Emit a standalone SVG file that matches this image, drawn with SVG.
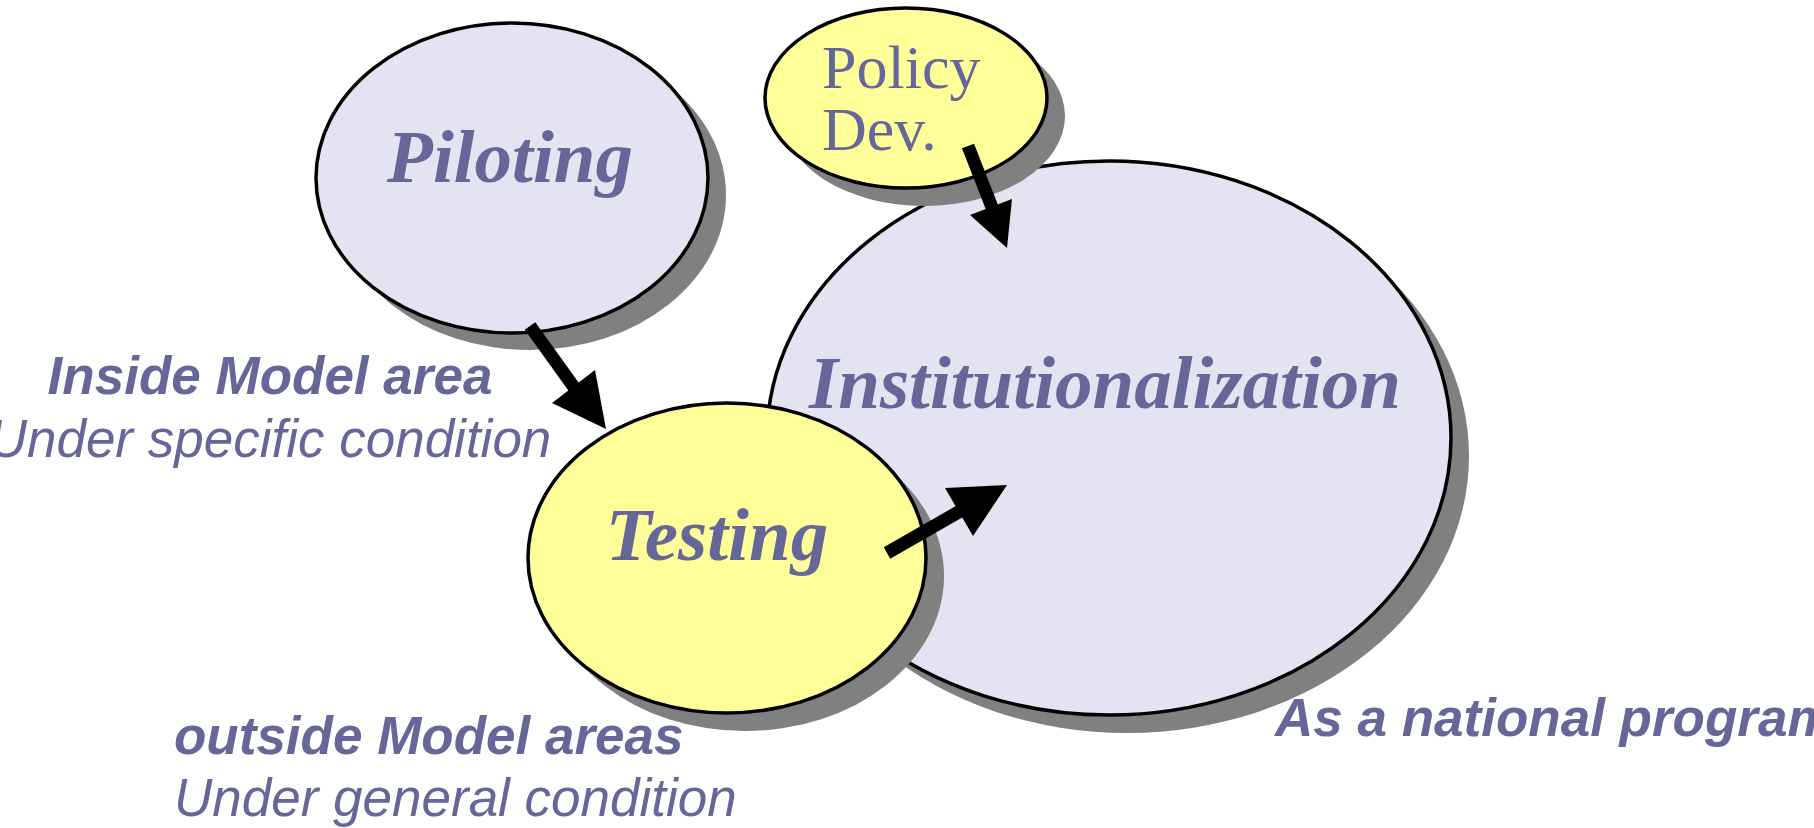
<svg xmlns="http://www.w3.org/2000/svg" width="1814" height="828" viewBox="0 0 1814 828">
  <style>
    .shadow { fill: #808080; }
    .lav { fill: #E3E3F1; stroke: #000; stroke-width: 3.5; }
    .yel { fill: #FFFF99; stroke: #000; stroke-width: 3.5; }
    .title { font-family: "Liberation Serif", "Times New Roman", serif; font-weight: bold; font-style: italic; font-size: 75px; fill: #666699; }
    .plain { font-family: "Liberation Serif", "Times New Roman", serif; font-size: 62px; fill: #666699; }
    .note-b { font-family: "Liberation Sans", Arial, sans-serif; font-weight: bold; font-style: italic; font-size: 53px; fill: #666699; }
    .note-i { font-family: "Liberation Sans", Arial, sans-serif; font-style: italic; font-size: 53px; fill: #666699; }
    .shaft { stroke: #000; stroke-width: 13; fill: none; }
    .head { fill: #000; }
  </style>
  <rect width="1814" height="828" fill="#fff"/>

  <g id="institutionalization">
    <ellipse class="shadow" cx="1127" cy="456" rx="342" ry="277"/>
    <ellipse class="lav" cx="1109" cy="438" rx="342" ry="277"/>
    <text class="title" x="1105" y="408" text-anchor="middle">Institutionalization</text>
  </g>

  <g id="testing">
    <ellipse class="shadow" cx="745" cy="576" rx="199" ry="155"/>
    <ellipse class="yel" cx="727" cy="558" rx="199" ry="155"/>
    <text class="title" x="717" y="560" text-anchor="middle">Testing</text>
  </g>

  <g id="policy">
    <ellipse class="shadow" cx="924" cy="116" rx="141" ry="90"/>
    <ellipse class="yel" cx="906" cy="98" rx="141" ry="90"/>
    <text class="plain" x="822" y="88">Policy</text>
    <text class="plain" x="822" y="150">Dev.</text>
  </g>

  <g id="piloting">
    <ellipse class="shadow" cx="530" cy="195" rx="196" ry="155"/>
    <ellipse class="lav" cx="512" cy="178" rx="196" ry="155"/>
    <text class="title" x="510" y="182" text-anchor="middle">Piloting</text>
  </g>

  <g id="labels">
    <text class="note-b" x="270" y="394" text-anchor="middle">Inside Model area</text>
    <text class="note-i" x="270" y="457" text-anchor="middle">Under specific condition</text>
    <text class="note-b" x="174" y="754">outside Model areas</text>
    <text class="note-i" x="174" y="816">Under general condition</text>
    <text class="note-b" x="1275" y="736">As a national program</text>
  </g>

  <g id="connectors">
    <!-- Piloting to Testing -->
    <line class="shaft" x1="530" y1="326" x2="576" y2="390"/>
    <polygon class="head" points="606,429 552,403 595,370"/>
    <!-- Policy Dev. to Institutionalization -->
    <line class="shaft" x1="968" y1="146" x2="993" y2="210"/>
    <polygon class="head" points="1007,248 970,215 1012,199"/>
    <!-- Testing to Institutionalization -->
    <line class="shaft" x1="887" y1="553" x2="962" y2="510"/>
    <polygon class="head" points="1007,485 945,488 973,536"/>
  </g>
</svg>
